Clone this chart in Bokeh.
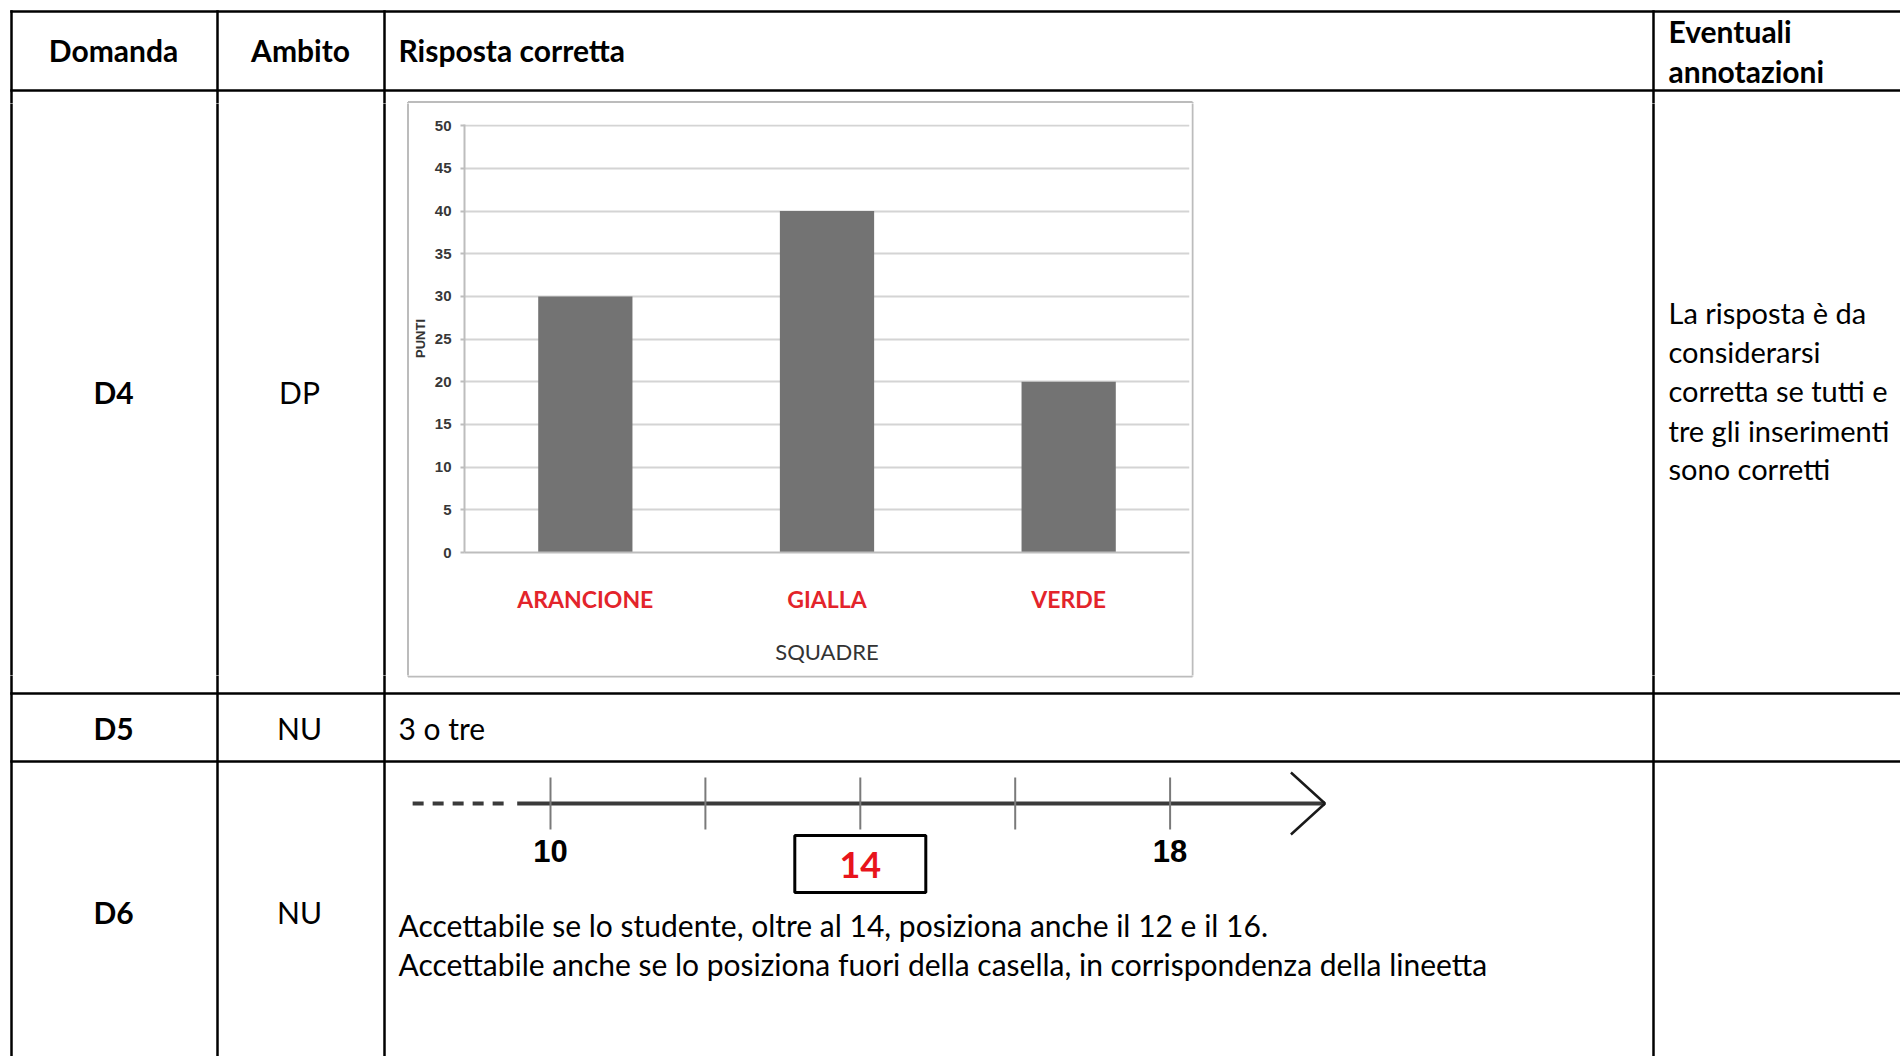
from bokeh.plotting import figure
from bokeh.models import Range1d, FactorRange, FixedTicker, LabelSet, ColumnDataSource
from bokeh.layouts import column, row
from bokeh.embed import file_html
from bokeh.resources import INLINE
from bokeh.core.properties import value

# ---------------- data ----------------
squadre = ["ARANCIONE", "GIALLA", "VERDE"]
punti = [30, 40, 20]
y_ticks = [0, 5, 10, 15, 20, 25, 30, 35, 40, 45, 50]

header_center = ["Domanda", "Ambito"]
header_left = ["Risposta corretta"]
header_notes = ["Eventuali", "annotazioni"]
domande = ["D4", "D5", "D6"]
ambiti = ["DP", "NU", "NU"]
risposta_d5 = "3 o tre"
note_d4 = ["La risposta è da", "considerarsi", "corretta se tutti e",
           "tre gli inserimenti", "sono corretti"]
note_d6 = ["Accettabile se lo studente, oltre al 14, posiziona anche il 12 e il 16.",
           "Accettabile anche se lo posiziona fuori della casella, in corrispondenza della lineetta"]
nl_ticks = [10, 12, 14, 16, 18]
nl_shown = [10, 18]
nl_answer = 14

# ---------------- geometry (page pixels) ----------------
M = 0
W, H = 1900, 1056
CH_X0, CH_X1, CH_Y0, CH_Y1 = 409, 1191, 103, 675
HLINES = [11, 90, 693, 761]
VLINES = [11, 217, 384, 1653]
FRAME = (407.5, 1192, 101.5, 676)
FONT = "Lato"
FS = 30
DY = -2


def pix_fig(x0, x1, y0, y1):
    p = figure(width=x1 - x0, height=y1 - y0,
               x_range=Range1d(x0, x1), y_range=Range1d(y1, y0),
               x_axis_location=None, y_axis_location=None,
               toolbar_location=None, output_backend="svg", min_border=0,
               frame_align=False)
    p.grid.visible = False
    p.outline_line_color = None
    p.background_fill_color = "white"
    p.border_fill_color = "white"
    # chart frame
    fx0, fx1, fy0, fy1 = FRAME
    p.segment(x0=[fx0, fx0, fx0, fx1], y0=[fy0, fy1, fy0, fy0],
              x1=[fx1, fx1, fx0, fx1], y1=[fy0, fy1, fy1, fy1],
              line_color="#bcbcbc", line_width=2)
    # table lines
    p.segment(x0=[11] * len(HLINES), y0=HLINES, x1=[1905] * len(HLINES), y1=HLINES,
              line_color="black", line_width=2.5, line_cap="square")
    p.segment(x0=VLINES, y0=[11] * len(VLINES), x1=VLINES, y1=[1060] * len(VLINES),
              line_color="black", line_width=2.5, line_cap="square")
    return p


def txt(p, xs, ys, texts, size=FS, bold=False, align="left", color="black", font=FONT,
        dy=DY, **kw):
    p.text(x=xs, y=[y + dy for y in ys], text=texts, text_font=value(font),
           text_font_size=f"{size}px",
           text_font_style="bold" if bold else "normal", text_align=align,
           text_baseline="middle", text_color=color, **kw)


# ---------------- top (header) ----------------
top = pix_fig(M, M + W, M, CH_Y0)
txt(top, [113, 300], [51, 51], header_center, bold=True, align="center")
txt(top, [398], [51], header_left, bold=True)
txt(top, [1668, 1668], [32, 72], header_notes, bold=True)

# ---------------- middle row ----------------
left = pix_fig(M, CH_X0, CH_Y0, CH_Y1)
txt(left, [113], [393], [domande[0]], bold=True, align="center")
txt(left, [299], [393], [ambiti[0]], align="center")

right = pix_fig(CH_X1, M + W, CH_Y0, CH_Y1)
txt(right, [1668] * len(note_d4), [314, 353, 392, 432, 470], note_d4, size=29)

# bar chart
ch = figure(width=CH_X1 - CH_X0, height=CH_Y1 - CH_Y0,
            x_range=FactorRange(*squadre, range_padding=0),
            y_range=Range1d(0, 50.15),
            toolbar_location=None, output_backend="svg", frame_align=False,
            min_border_left=464 - CH_X0, min_border_right=CH_X1 - 1189,
            min_border_top=124 - CH_Y0, min_border_bottom=CH_Y1 - 552)
ch.vbar(x=squadre, top=punti, width=0.39, fill_color="#737373", line_color=None)
ch.outline_line_color = None
ch.background_fill_color = "white"
ch.border_fill_color = "white"
ch.xgrid.visible = False
ch.ygrid.grid_line_color = "#d4d4d4"
ch.ygrid.grid_line_width = 2
ch.yaxis.ticker = FixedTicker(ticks=y_ticks)
ch.yaxis.axis_label = "PUNTI"
ch.yaxis.axis_label_text_font = "Liberation Sans"
ch.yaxis.axis_label_text_font_size = "13px"
ch.yaxis.axis_label_text_font_style = "bold"
ch.yaxis.axis_label_text_color = "#333333"
ch.yaxis.axis_label_standoff = 4
ch.yaxis.major_label_text_font = "Liberation Sans"
ch.yaxis.major_label_text_font_size = "15px"
ch.yaxis.major_label_text_font_style = "bold"
ch.yaxis.major_label_text_color = "#383838"
ch.yaxis.major_label_standoff = 9
ch.yaxis.major_tick_out = 4
ch.yaxis.major_tick_in = 0
ch.yaxis.minor_tick_line_color = None
ch.yaxis.axis_line_color = "#bdbdbd"
ch.yaxis.axis_line_width = 2
ch.yaxis.major_tick_line_color = "#bdbdbd"
ch.yaxis.major_tick_line_width = 2
ch.xaxis.axis_label = "SQUADRE"
ch.xaxis.axis_label_text_font = FONT
ch.xaxis.axis_label_text_font_size = "22px"
ch.xaxis.axis_label_text_font_style = "normal"
ch.xaxis.axis_label_text_color = "#333333"
ch.xaxis.axis_label_standoff = 22
ch.xaxis.major_label_text_font = FONT
ch.xaxis.major_label_text_font_size = "23px"
ch.xaxis.major_label_text_font_style = "bold"
ch.xaxis.major_label_text_color = "#e3242b"
ch.xaxis.major_label_standoff = 32
ch.xaxis.major_tick_line_color = None
ch.xaxis.major_tick_out = 0
ch.xaxis.axis_line_color = "#bdbdbd"
ch.xaxis.axis_line_width = 2
# dotted (spell-check style) underline under each team name
dots_src = ColumnDataSource(dict(x=squadre, y=[-7.0] * len(squadre),
                                 t=["." * 20] * len(squadre)))
ch.add_layout(LabelSet(x="x", y="y", text="t", source=dots_src, text_align="center",
                       text_baseline="alphabetic", text_font="Liberation Sans",
                       text_font_size="13px", text_font_style="bold",
                       text_color="#222222"))

# ---------------- bottom ----------------
bot = pix_fig(M, M + W, CH_Y1, M + H)
txt(bot, [113, 113], [729, 913], domande[1:], bold=True, align="center")
txt(bot, [299, 299], [729, 913], ambiti[1:], align="center")
txt(bot, [398], [729], [risposta_d5])
txt(bot, [398, 398], [926, 965], note_d6)

# number line on its own numeric scale
PX0, PPU = 550.0, 77.45
bot.extra_x_ranges = {"nl": Range1d(10 + (M - PX0) / PPU, 10 + (M + W - PX0) / PPU)}
bot.line(x=[8.22, 9.43], y=[803, 803], x_range_name="nl", line_color="#3a3a3a",
         line_width=4, line_dash="11 9")
bot.line(x=[9.57, 20.0], y=[803, 803], x_range_name="nl", line_color="#3a3a3a", line_width=4)
bot.segment(x0=nl_ticks, y0=[777] * len(nl_ticks), x1=nl_ticks, y1=[829] * len(nl_ticks),
            x_range_name="nl", line_color="#7a7a7a", line_width=2)
bot.line(x=[19.56, 20.0, 19.56], y=[772, 803, 834], x_range_name="nl",
         line_color="#1a1a1a", line_width=2.5)
txt(bot, nl_shown, [851, 851], [str(v) for v in nl_shown], size=31, bold=True,
    align="center", font="Liberation Sans", dy=-1, x_range_name="nl")
bot.rect(x=[nl_answer], y=[863.5], width=131, width_units="screen", height=57,
         fill_color=None, line_color="black", line_width=3, x_range_name="nl")
txt(bot, [nl_answer], [865], [str(nl_answer)], size=36, bold=True, align="center",
    color="#e8141c", dy=-1, x_range_name="nl")

layout = column(top, row(left, ch, right), bot)
open("out.html", "w").write(file_html(layout, INLINE))
